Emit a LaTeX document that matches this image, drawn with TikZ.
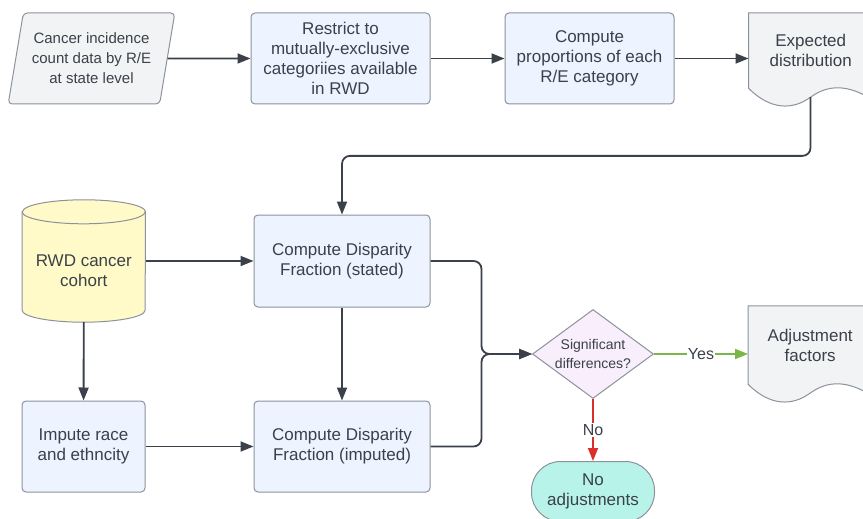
\documentclass[tikz,border=0pt]{standalone}
\usepackage{fontspec}
\setmainfont{Liberation Sans}
\usepackage{tikz}
\usetikzlibrary{arrows.meta,positioning,shapes.geometric,calc,backgrounds}

\definecolor{ink}{HTML}{3A414A}
\definecolor{edge}{HTML}{8C929C}
\definecolor{procfill}{HTML}{EDF4FF}
\definecolor{docfill}{HTML}{F2F3F5}
\definecolor{dbfill}{HTML}{FFFAC7}
\definecolor{decfill}{HTML}{F8EEFC}
\definecolor{termfill}{HTML}{B8F3E9}
\definecolor{yesgreen}{HTML}{7AB648}
\definecolor{nored}{HTML}{D9302C}

\begin{document}
\begin{tikzpicture}[>={Triangle[length=13pt,width=10pt]},
    base/.style={draw=edge, line width=1pt, text=ink, align=center,
      font=\fontsize{17pt}{20pt}\selectfont, inner sep=2pt},
    proc/.style={base, rectangle, rounded corners=4pt, fill=procfill},
    datain/.style={base, trapezium, trapezium left angle=76, trapezium right angle=104,
      trapezium stretches=true, rounded corners=4pt, fill=docfill,
      font=\fontsize{15pt}{20pt}\selectfont},
    docbox/.style={text=ink, align=center, font=\fontsize{17pt}{20pt}\selectfont,
      minimum width=124pt, inner sep=0pt},
    dbase/.style={text=ink, align=center, font=\fontsize{17pt}{20pt}\selectfont, inner sep=0pt},
    decision/.style={base, diamond, fill=decfill, minimum width=121pt, minimum height=89pt, inner sep=0pt},
    dtext/.style={text=ink, align=center, font=\fontsize{14pt}{19pt}\selectfont},
    term/.style={base, rectangle, rounded corners=29pt, fill=termfill, minimum width=123pt, minimum height=60pt},
    flow/.style={->, color=ink, line width=1.8pt},
    tag/.style={fill=white, text=ink, font=\fontsize{16pt}{18pt}\selectfont, inner sep=1pt}]
    \useasboundingbox (0,0) rectangle (863pt,-519pt);

    % top row
    \node[datain, minimum width=167pt, minimum height=91pt] (cnt) at (91.5pt,-58.5pt) {Cancer incidence\\count data by R/E\\at state level};
    \node[proc, minimum width=179pt, minimum height=91pt] (restr) at (340.5pt,-58.5pt) {Restrict to\\mutually-exclusive\\categoriies available\\in RWD};
    \node[proc, minimum width=169pt, minimum height=91pt, right=74pt of restr] (prop) {Compute\\proportions of each\\R/E category};
    \node[docbox, minimum height=75pt, right=74pt of prop, yshift=8pt] (expd) {Expected\\distribution};

    % middle and bottom rows
    \node[proc, minimum width=176pt, minimum height=92pt] (stat) at (342pt,-261pt) {Compute Disparity\\Fraction (stated)};
    \node[proc, minimum width=176pt, minimum height=91pt, below=93pt of stat] (imp) {Compute Disparity\\Fraction (imputed)};
    \node[dbase, minimum width=123pt, minimum height=102pt, left=108pt of stat, yshift=-10pt] (rwd) {RWD cancer\\cohort};
    \node[proc, minimum width=123pt, minimum height=91pt, left=108pt of imp] (impre) {Impute race\\and ethncity};

    % decision
    \node[decision, label={[dtext]center:{Significant\\differences?}}] (sig) at (593pt,-354pt) {};
    \node[docbox, minimum height=78pt, right=94pt of sig, yshift=9pt] (adj) {Adjustment\\factors};
    \node[term, below=62pt of sig] (noadj) {No\\adjustments};

    % document and database outlines
    \begin{scope}[on background layer]
      \draw[draw=edge, line width=1pt, fill=docfill]
        (expd.south west) -- (expd.north west) -- (expd.north east) --
        ($(expd.south east)+(0,-12pt)$)
        .. controls ($(expd.south west)+(100pt,4pt)$) and ($(expd.south west)+(80pt,4pt)$) ..
        ($(expd.south west)+(62pt,-9pt)$) coordinate (expbot)
        .. controls ($(expd.south west)+(44pt,-22pt)$) and ($(expd.south west)+(22pt,-22pt)$) ..
        (expd.south west) -- cycle;
      \draw[draw=edge, line width=1pt, fill=docfill]
        (adj.south west) -- (adj.north west) -- (adj.north east) --
        ($(adj.south east)+(0,-12pt)$)
        .. controls ($(adj.south west)+(100pt,4pt)$) and ($(adj.south west)+(80pt,4pt)$) ..
        ($(adj.south west)+(62pt,-9pt)$)
        .. controls ($(adj.south west)+(44pt,-22pt)$) and ($(adj.south west)+(22pt,-22pt)$) ..
        (adj.south west) -- cycle;
      \draw[draw=edge, line width=1pt, fill=dbfill]
        ($(rwd.north west)+(0,8pt)$) -- ($(rwd.south west)+(0,12pt)$)
        arc[start angle=180, end angle=360, x radius=61.5pt, y radius=12pt]
        -- ($(rwd.north east)+(0,8pt)$)
        arc[start angle=0, end angle=180, x radius=61.5pt, y radius=12pt] -- cycle;
      \draw[draw=edge, line width=1pt] ($(rwd.north west)+(0,8pt)$)
        arc[start angle=180, end angle=360, x radius=61.5pt, y radius=12pt];
    \end{scope}

    % connectors
    \draw[flow] (cnt) -- (restr);
    \draw[flow] (restr) -- (prop);
    \draw[flow] (prop) -- (prop -| expd.west);
    \draw[flow, rounded corners=8pt] (expbot) |- ($(expbot)!.5!(stat.north)$) -| (stat.north);
    \draw[flow] (stat -| rwd.east) -- (stat);
    \draw[flow] (rwd) -- (impre);
    \draw[flow] (impre) -- (imp);
    \draw[flow] (stat) -- (imp);
    \draw[flow, rounded corners=8pt] (stat.east) -- ++(51pt,0) |- (sig.west);
    \draw[flow, rounded corners=8pt] (imp.east) -- ++(51pt,0) |- (sig.west);
    \draw[flow, yesgreen] (sig.east) -- node[tag] {Yes} (sig.east -| adj.west);
    \draw[flow, nored] (sig.south) -- node[tag] {No} (noadj.north);
\end{tikzpicture}
\end{document}
